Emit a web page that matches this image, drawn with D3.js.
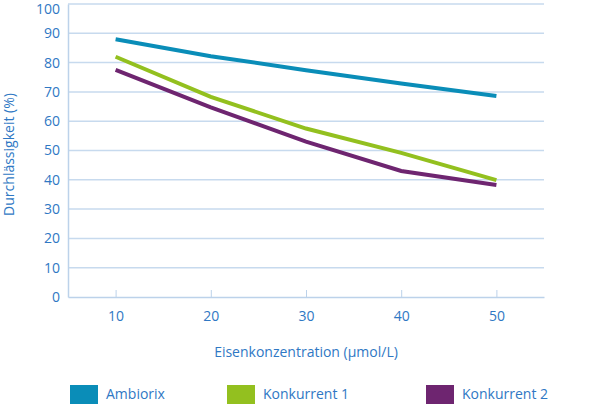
<!DOCTYPE html>
<html>
<head>
<meta charset="utf-8">
<script src="https://cdn.jsdelivr.net/npm/d3@7"></script>
<style>
  body { margin: 0; background: #fff; }
  svg text { font-family: "Open Sans", sans-serif; fill: #2f78c4; }
</style>
</head>
<body>
<script>
// Data
const concentrations = [10, 20, 30, 40, 50];
const seriesNames = ["Ambiorix", "Konkurrent 1", "Konkurrent 2"];
const ambiorix = [88.0, 82.2, 77.4, 72.9, 68.6];
const konkurrent1 = [82.0, 68.3, 57.5, 49.2, 39.9];
const konkurrent2 = [77.5, 64.7, 53.0, 43.0, 38.2];
const yTicks = [0, 10, 20, 30, 40, 50, 60, 70, 80, 90, 100];

const colors = ["#0a8db8", "#93c01f", "#6e2570"];
const allSeries = [ambiorix, konkurrent1, konkurrent2];

const w = 605, h = 405;
const margin = { top: 4, right: 61, bottom: 108, left: 68 };

const svg = d3.select("body").append("svg")
  .attr("width", w)
  .attr("height", h);

const x = d3.scaleLinear()
  .domain([5, 55])
  .range([margin.left, w - margin.right]);

const y = d3.scaleLinear()
  .domain([0, 100])
  .range([h - margin.bottom, margin.top]);

// gridlines
svg.append("g")
  .selectAll("line")
  .data(yTicks.filter(d => d > 0))
  .enter()
  .append("line")
  .attr("x1", margin.left)
  .attr("x2", w - margin.right)
  .attr("y1", d => y(d))
  .attr("y2", d => y(d))
  .attr("stroke", "#c7daee")
  .attr("stroke-width", 1.5);

// y axis
const yAxis = svg.append("g")
  .attr("transform", `translate(${margin.left},0)`)
  .call(d3.axisLeft(y).tickValues(yTicks).tickSize(0).tickPadding(8));
yAxis.select(".domain").attr("stroke", "#bcd2ea").attr("stroke-width", 1.5);
yAxis.selectAll("text")
  .style("font-size", "14px")
  .attr("fill", "#2f78c4");
// top label sits a bit lower so it isn't clipped
yAxis.selectAll(".tick")
  .filter(d => d === 100)
  .select("text")
  .attr("y", 5);

// x axis
const xAxis = svg.append("g")
  .attr("transform", `translate(0,${y(0)})`)
  .call(d3.axisBottom(x).tickValues(concentrations).tickSizeInner(-7).tickSizeOuter(0).tickPadding(14));
xAxis.select(".domain").attr("stroke", "#bcd2ea").attr("stroke-width", 1.5);
xAxis.selectAll(".tick line").attr("stroke", "#bcd2ea");
xAxis.selectAll("text")
  .style("font-size", "14px")
  .attr("fill", "#2f78c4");

// axis titles
svg.append("text")
  .attr("transform", `translate(14,${(y(0) + y(100)) / 2 + 4}) rotate(-90)`)
  .attr("text-anchor", "middle")
  .style("font-size", "14px")
  .text("Durchlässigkeit (%)");

svg.append("text")
  .attr("x", (margin.left + w - margin.right) / 2)
  .attr("y", 357)
  .attr("text-anchor", "middle")
  .style("font-size", "14px")
  .text("Eisenkonzentration (µmol/L)");

// lines
const line = d3.line()
  .x((d, i) => x(concentrations[i]))
  .y(d => y(d));

allSeries.forEach((s, i) => {
  svg.append("path")
    .datum(s)
    .attr("fill", "none")
    .attr("stroke", colors[i])
    .attr("stroke-width", 4)
    .attr("d", line);
});

// legend
const legendX = [70, 227, 426];
const legend = svg.append("g").attr("id", "legend");
seriesNames.forEach((name, i) => {
  legend.append("rect")
    .attr("x", legendX[i])
    .attr("y", 385)
    .attr("width", 28)
    .attr("height", 19)
    .attr("fill", colors[i]);
  legend.append("text")
    .attr("x", legendX[i] + 36)
    .attr("y", 399)
    .style("font-size", "14px")
    .text(name);
});
</script>
</body>
</html>
